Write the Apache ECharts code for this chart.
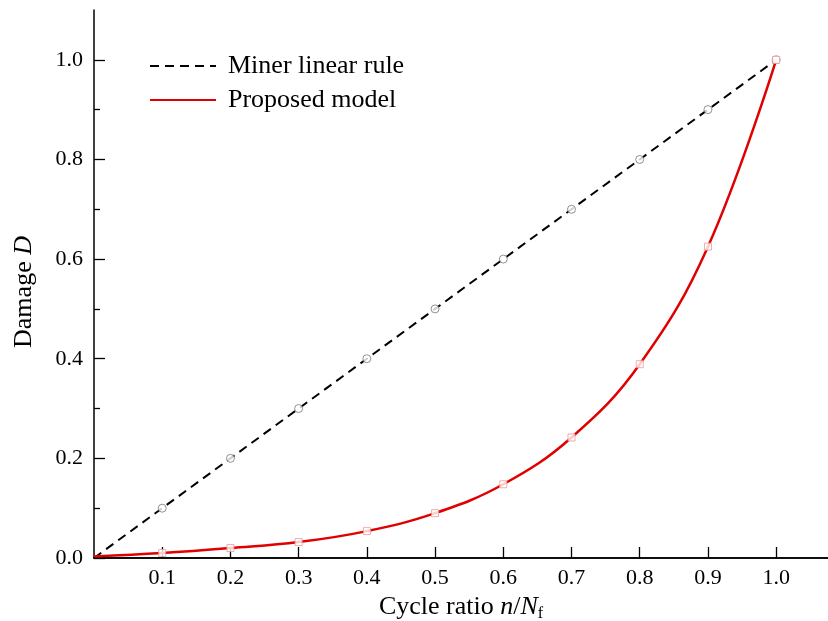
<!DOCTYPE html>
<html>
<head>
<meta charset="utf-8">
<script src="https://cdn.jsdelivr.net/npm/echarts@6/dist/echarts.min.js"></script>
<style>html,body{margin:0;padding:0;background:#fff;}#c{width:828px;height:621px;}</style>
</head>
<body>
<div id="c"></div>
<script>
var cycleRatio = [0.1, 0.2, 0.3, 0.4, 0.5, 0.6, 0.7, 0.8, 0.9, 1.0];
var minerDamage = [0.1, 0.2, 0.3, 0.4, 0.5, 0.6, 0.7, 0.8, 0.9, 1.0];
var modelDamage = [0.010, 0.020, 0.032, 0.054, 0.090, 0.148, 0.242, 0.389, 0.625, 1.0];
var yTicks = [0.0, 0.2, 0.4, 0.6, 0.8, 1.0];
var xTicks = [0.1, 0.2, 0.3, 0.4, 0.5, 0.6, 0.7, 0.8, 0.9, 1.0];

var font = '"Liberation Serif", "Times New Roman", serif';
var minerLine = [[0, 0]].concat(cycleRatio.map(function (x, i) { return [x, minerDamage[i]]; }));
var modelLine = [[0, 0.003]].concat(cycleRatio.map(function (x, i) { return [x, modelDamage[i]]; }));
var minerPts = cycleRatio.map(function (x, i) { return [x, minerDamage[i]]; });
var modelPts = cycleRatio.map(function (x, i) { return [x, modelDamage[i]]; });

var chart = echarts.init(document.getElementById('c'));
chart.setOption({
  animation: false,
  backgroundColor: '#fff',
  grid: { left: 94, right: 0, top: 10, bottom: 63, containLabel: false, outerBoundsMode: 'none' },
  legend: {
    left: 144, top: 48, orient: 'vertical', itemGap: 8,
    itemWidth: 66, itemHeight: 28,
    itemStyle: { opacity: 0 },
    textStyle: { fontFamily: font, fontSize: 26, color: '#000', padding: [0, 0, 0, 7] },
    data: ['Miner linear rule', 'Proposed model']
  },
  xAxis: [{
    type: 'value', min: 0, max: 1.076, interval: 0.1,
    name: '{t|Cycle ratio }{i|n}{t|/}{i|N}{s|f}',
    nameLocation: 'middle', nameGap: 19,
    nameTextStyle: {
      rich: {
        t: { fontFamily: font, fontSize: 26, color: '#000' },
        i: { fontFamily: font, fontSize: 26, fontStyle: 'italic', color: '#000' },
        s: { fontFamily: font, fontSize: 16, color: '#000', verticalAlign: 'bottom', padding: [14, 0, 0, 0] }
      }
    },
    axisLine: { onZero: false, lineStyle: { color: '#000', width: 1.5 } },
    axisTick: { inside: true, length: 11, lineStyle: { color: '#000', width: 1.3 }, customValues: xTicks },
    axisLabel: {
      fontFamily: font, fontSize: 22, color: '#000', margin: 9,
      customValues: xTicks,
      formatter: function (v) { return v.toFixed(1); }
    },
    splitLine: { show: false }
  }, {
    type: 'value', position: 'top', min: 0, max: 1.076,
    axisLine: { show: true, lineStyle: { color: '#000', width: 1.5 } },
    axisTick: { show: false }, axisLabel: { show: false }, splitLine: { show: false }
  }],
  yAxis: {
    type: 'value', min: 0, max: 1.1, interval: 0.2,
    name: '{t|Damage }{i|D}',
    nameLocation: 'middle', nameGap: 57,
    nameTextStyle: {
      padding: [0, 16, 0, 0],
      rich: {
        t: { fontFamily: font, fontSize: 26, color: '#000' },
        i: { fontFamily: font, fontSize: 26, fontStyle: 'italic', color: '#000' }
      }
    },
    axisLine: { show: true, lineStyle: { color: '#000', width: 1.5 } },
    axisTick: { inside: true, length: 11, lineStyle: { color: '#000', width: 1.3 }, customValues: yTicks },
    minorTick: { show: true, splitNumber: 2, length: 6, lineStyle: { color: '#000', width: 1.3 } },
    axisLabel: {
      fontFamily: font, fontSize: 22, color: '#000', margin: 11,
      customValues: yTicks,
      formatter: function (v) { return v.toFixed(1); }
    },
    splitLine: { show: false }
  },
  series: [{
    name: 'Miner linear rule', type: 'line', data: minerLine, symbol: 'none',
    lineStyle: { color: '#000', width: 2, type: [9, 6] }, itemStyle: { color: '#000' }, z: 2
  }, {
    name: 'Proposed model', type: 'line', data: modelLine, symbol: 'none', smooth: 0.4,
    lineStyle: { color: '#e00000', width: 2.5 }, itemStyle: { color: '#e00000' }, z: 2
  }, {
    type: 'scatter', data: minerPts, symbol: 'circle', symbolSize: 8,
    itemStyle: { color: '#fff', borderColor: '#555', borderWidth: 0.8 }, z: 3
  }, {
    type: 'scatter', data: modelPts, symbol: 'rect', symbolSize: 7,
    itemStyle: { color: '#fff', borderColor: '#e99', borderWidth: 1 }, z: 3
  }]
});
</script>
</body>
</html>
